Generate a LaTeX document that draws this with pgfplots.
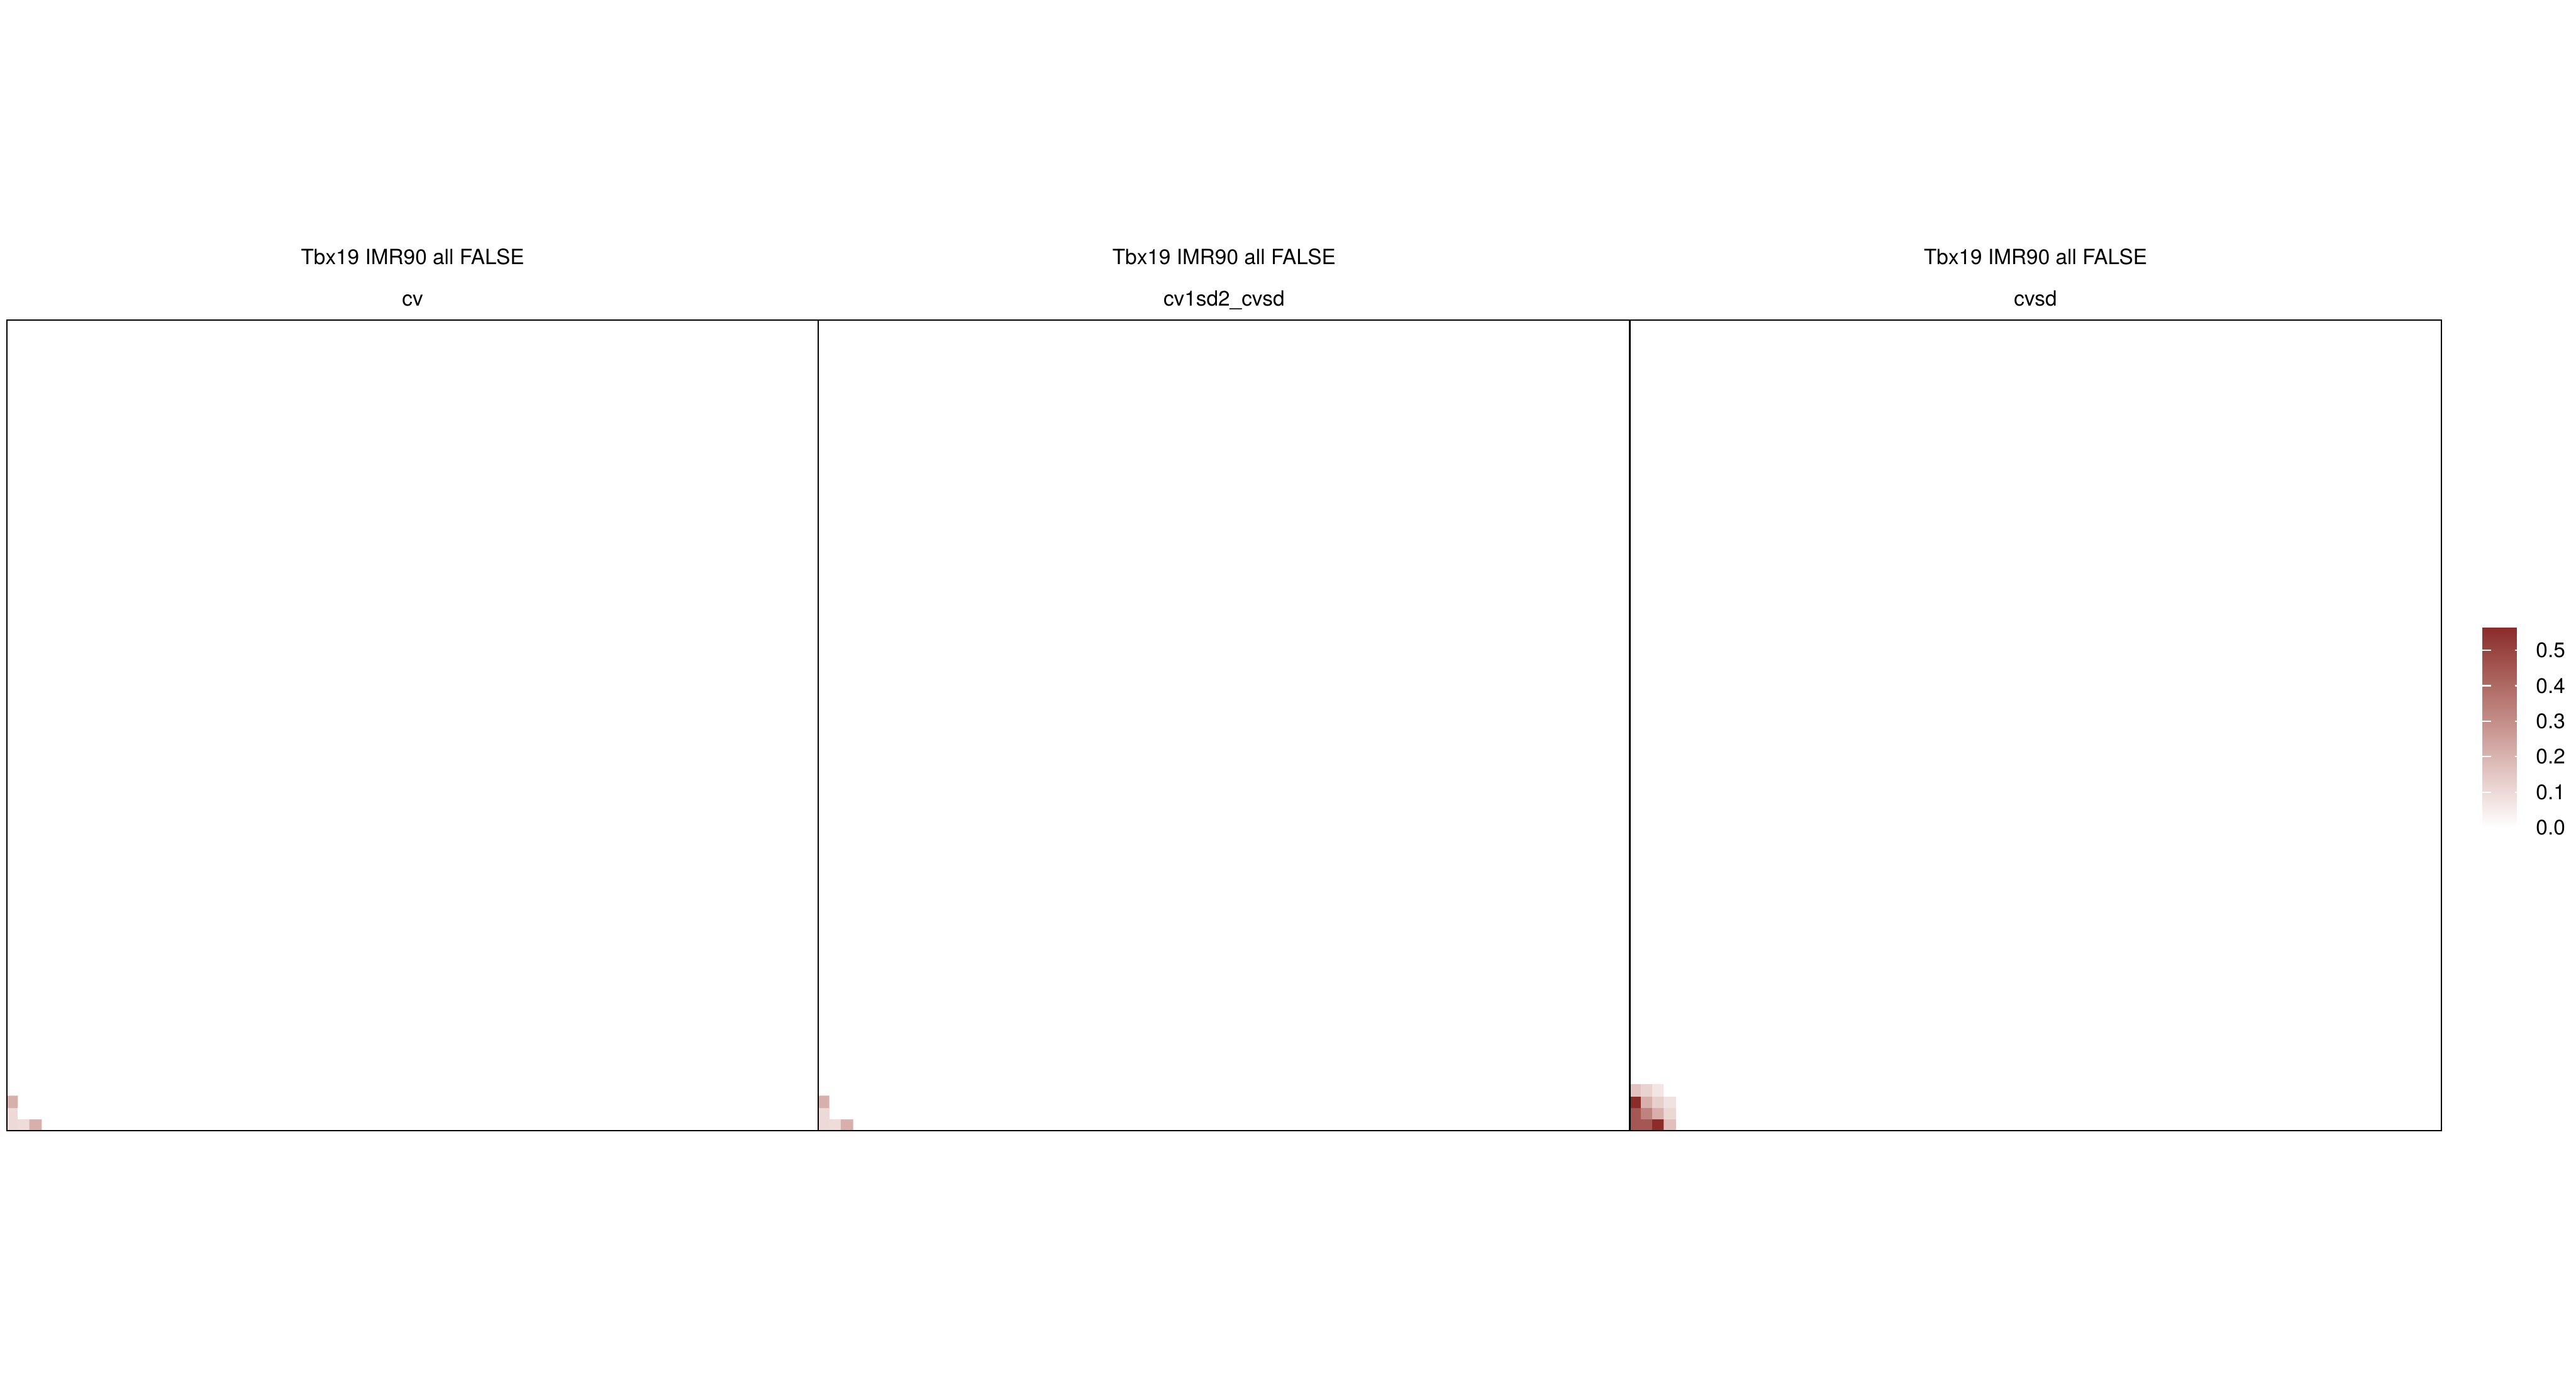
\documentclass[border=0pt]{standalone}
\usepackage{fontspec}
\setmainfont{TeX Gyre Heros}
\usepackage{pgfplots}
\pgfplotsset{compat=1.18}
\pgfplotsset{
 colormap={ggred}{rgb255=(255,255,255) rgb255=(229,203,200) rgb255=(200,148,143) rgb255=(170,97,92) rgb255=(138,44,42)},
 panel/.style={scale only axis, width=340.2pt, height=339.84pt,
   xmin=0, xmax=70.9, ymin=0, ymax=70.8, xtick=\empty, ytick=\empty,
   axis on top, clip=false, axis line style={line width=0.6pt, black},
   colormap name=ggred, point meta min=0, point meta max=0.565, anchor=south west},
}
\newcommand{\ft}{\fontsize{8.8}{10}\selectfont}
\begin{document}
\begin{tikzpicture}
\useasboundingbox (0,0) rectangle (1080pt,576pt);
% panel 1
\begin{axis}[panel, at={(2.88pt,102pt)}]
\addplot[matrix plot*, mesh/cols=3, point meta=explicit] table[meta=c]{
x y c
0.5 0.5 0.10
1.5 0.5 0.095
2.5 0.5 0.21
0.5 1.5 0.10
1.5 1.5 0
2.5 1.5 0
0.5 2.5 0.21
1.5 2.5 0
2.5 2.5 0
};
\node[anchor=base, yshift=23.3pt, font=\ft] at (rel axis cs:0.5,1) {Tbx19 IMR90 all FALSE};
\node[anchor=base, yshift=6pt, font=\ft] at (rel axis cs:0.5,1) {cv};
\end{axis}
% panel 2
\begin{axis}[panel, at={(343.08pt,102pt)}]
\addplot[matrix plot*, mesh/cols=3, point meta=explicit] table[meta=c]{
x y c
0.5 0.5 0.10
1.5 0.5 0.095
2.5 0.5 0.21
0.5 1.5 0.10
1.5 1.5 0
2.5 1.5 0
0.5 2.5 0.21
1.5 2.5 0
2.5 2.5 0
};
\node[anchor=base, yshift=23.3pt, font=\ft] at (rel axis cs:0.5,1) {Tbx19 IMR90 all FALSE};
\node[anchor=base, yshift=6pt, font=\ft] at (rel axis cs:0.5,1) {cv1sd2\_cvsd};
\end{axis}
% panel 3
\begin{axis}[panel, at={(683.28pt,102pt)},
  colorbar,
  colorbar style={
    at={(parent axis.south east)}, anchor=south west,
    xshift=8.8pt, yshift=127pt,
    scale only axis, width=17.3pt, height=84pt,
    ytick={0,0.1,0.2,0.3,0.4,0.5},
    ytick pos=both, yticklabel pos=right,
    tick align=inside, major tick length=3.6pt,
    ytick style={draw=white, line width=0.6pt},
    axis line style={draw=none},
    yticklabel style={font=\ft, xshift=1.6pt,
      /pgf/number format/.cd, fixed, fixed zerofill, precision=1, assume math mode=true},
  }]
\addplot[matrix plot*, mesh/cols=4, point meta=explicit] table[meta=c]{
x y c
0.5 0.5 0.45
1.5 0.5 0.45
2.5 0.5 0.565
3.5 0.5 0.17
0.5 1.5 0.45
1.5 1.5 0.33
2.5 1.5 0.21
3.5 1.5 0.11
0.5 2.5 0.565
1.5 2.5 0.21
2.5 2.5 0.13
3.5 2.5 0.08
0.5 3.5 0.16
1.5 3.5 0.12
2.5 3.5 0.07
3.5 3.5 0
};
\node[anchor=base, yshift=23.3pt, font=\ft] at (rel axis cs:0.5,1) {Tbx19 IMR90 all FALSE};
\node[anchor=base, yshift=6pt, font=\ft] at (rel axis cs:0.5,1) {cvsd};
\end{axis}
\end{tikzpicture}
\end{document}
